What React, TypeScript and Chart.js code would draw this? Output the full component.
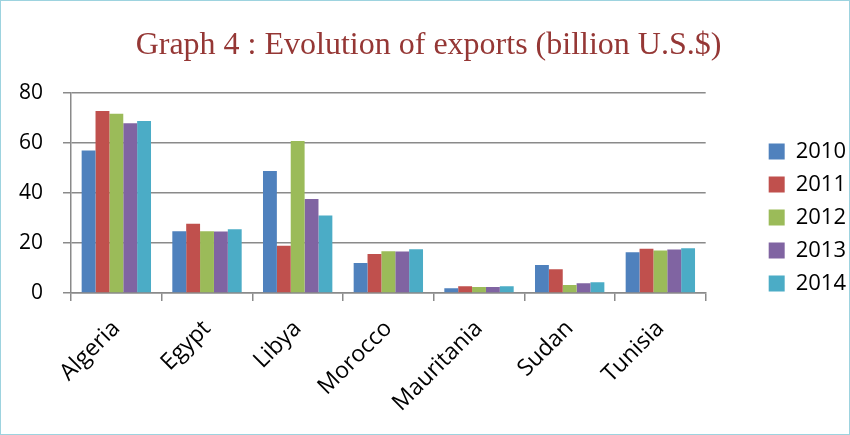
import React, { useEffect, useRef } from "react";
import { Chart, registerables } from "chart.js";

Chart.register(...registerables);

const categories = ["Algeria", "Egypt", "Libya", "Morocco", "Mauritania", "Sudan", "Tunisia"];
const years = ["2010", "2011", "2012", "2013", "2014"];
const exports2010 = [57.0, 24.7, 48.8, 12.0, 1.9, 11.2, 16.3];
const exports2011 = [72.8, 27.7, 18.9, 15.6, 2.7, 9.5, 17.7];
const exports2012 = [71.7, 24.7, 60.8, 16.7, 2.4, 3.2, 17.0];
const exports2013 = [67.9, 24.6, 37.6, 16.6, 2.4, 3.9, 17.4];
const exports2014 = [68.8, 25.5, 31.0, 17.5, 2.7, 4.3, 17.9];
const seriesColors = ["#4F81BD", "#C0504D", "#9BBB59", "#8064A2", "#4BACC6"];
const yTicks = [0, 20, 40, 60, 80];
const titleText = "Graph 4 : Evolution of exports (billion U.S.$)";

const series = [exports2010, exports2011, exports2012, exports2013, exports2014];

export default function App() {
  const ref = useRef<HTMLCanvasElement | null>(null);

  useEffect(() => {
    if (!ref.current) return;
    const gridColor = "#8a8a8a";
    const chart = new Chart(ref.current, {
      type: "bar",
      data: {
        labels: categories,
        datasets: years.map((y, i) => ({
          label: y,
          data: series[i],
          backgroundColor: seriesColors[i],
          borderWidth: 0,
          categoryPercentage: 0.765,
          barPercentage: 1.0,
        })),
      },
      options: {
        responsive: false,
        animation: false,
        layout: { padding: { top: 0, right: -7, bottom: 0, left: 0 } },
        plugins: {
          tooltip: { enabled: false },
          title: {
            display: true,
            text: titleText,
            color: "#953735",
            font: { family: "'Liberation Serif', 'Times New Roman', serif", size: 32, weight: "normal" },
            padding: { top: 25, bottom: 28.6 },
          },
          legend: {
            display: true,
            position: "right",
            labels: {
              color: "#000000",
              font: { family: "'Open Sans', sans-serif", size: 22 },
              boxWidth: 16,
              boxHeight: 16,
              padding: 11,
            },
          },
        },
        scales: {
          x: {
            grid: {
              display: true,
              drawOnChartArea: false,
              drawTicks: true,
              tickLength: 8,
              color: gridColor,
              lineWidth: 1.5,
            },
            border: { display: true, color: gridColor, width: 1.5 },
            ticks: {
              color: "#000000",
              font: { family: "'Open Sans', sans-serif", size: 23 },
              minRotation: 45,
              maxRotation: 45,
              padding: 14,
            },
            afterFit: (s: any) => {
              s.height = 141;
            },
          },
          y: {
            min: 0,
            max: 80,
            afterBuildTicks: (s: any) => {
              s.ticks = yTicks.map((v) => ({ value: v }));
            },
            grid: {
              color: gridColor,
              lineWidth: 1.5,
              drawTicks: true,
              tickLength: 8,
              tickColor: gridColor,
            },
            border: { display: true, color: gridColor, width: 1.5 },
            ticks: {
              color: "#000000",
              font: { family: "'Open Sans', sans-serif", size: 21 },
              padding: 20,
            },
            afterFit: (s: any) => {
              s.width = 70;
            },
          },
          spacer: {
            type: "linear",
            position: "right",
            display: true,
            grid: { display: false, drawTicks: false },
            border: { display: false },
            ticks: { display: false },
            afterFit: (s: any) => {
              s.width = 52;
            },
          },
        },
      } as any,
    });
    return () => chart.destroy();
  }, []);

  return (
    <div
      style={{
        position: "absolute",
        left: 0,
        top: 0,
        width: 850,
        height: 435,
        boxSizing: "border-box",
        border: "1px solid #9dd3df",
        background: "#ffffff",
      }}
    >
      <canvas ref={ref} width={848} height={433} style={{ display: "block" }} />
    </div>
  );
}
